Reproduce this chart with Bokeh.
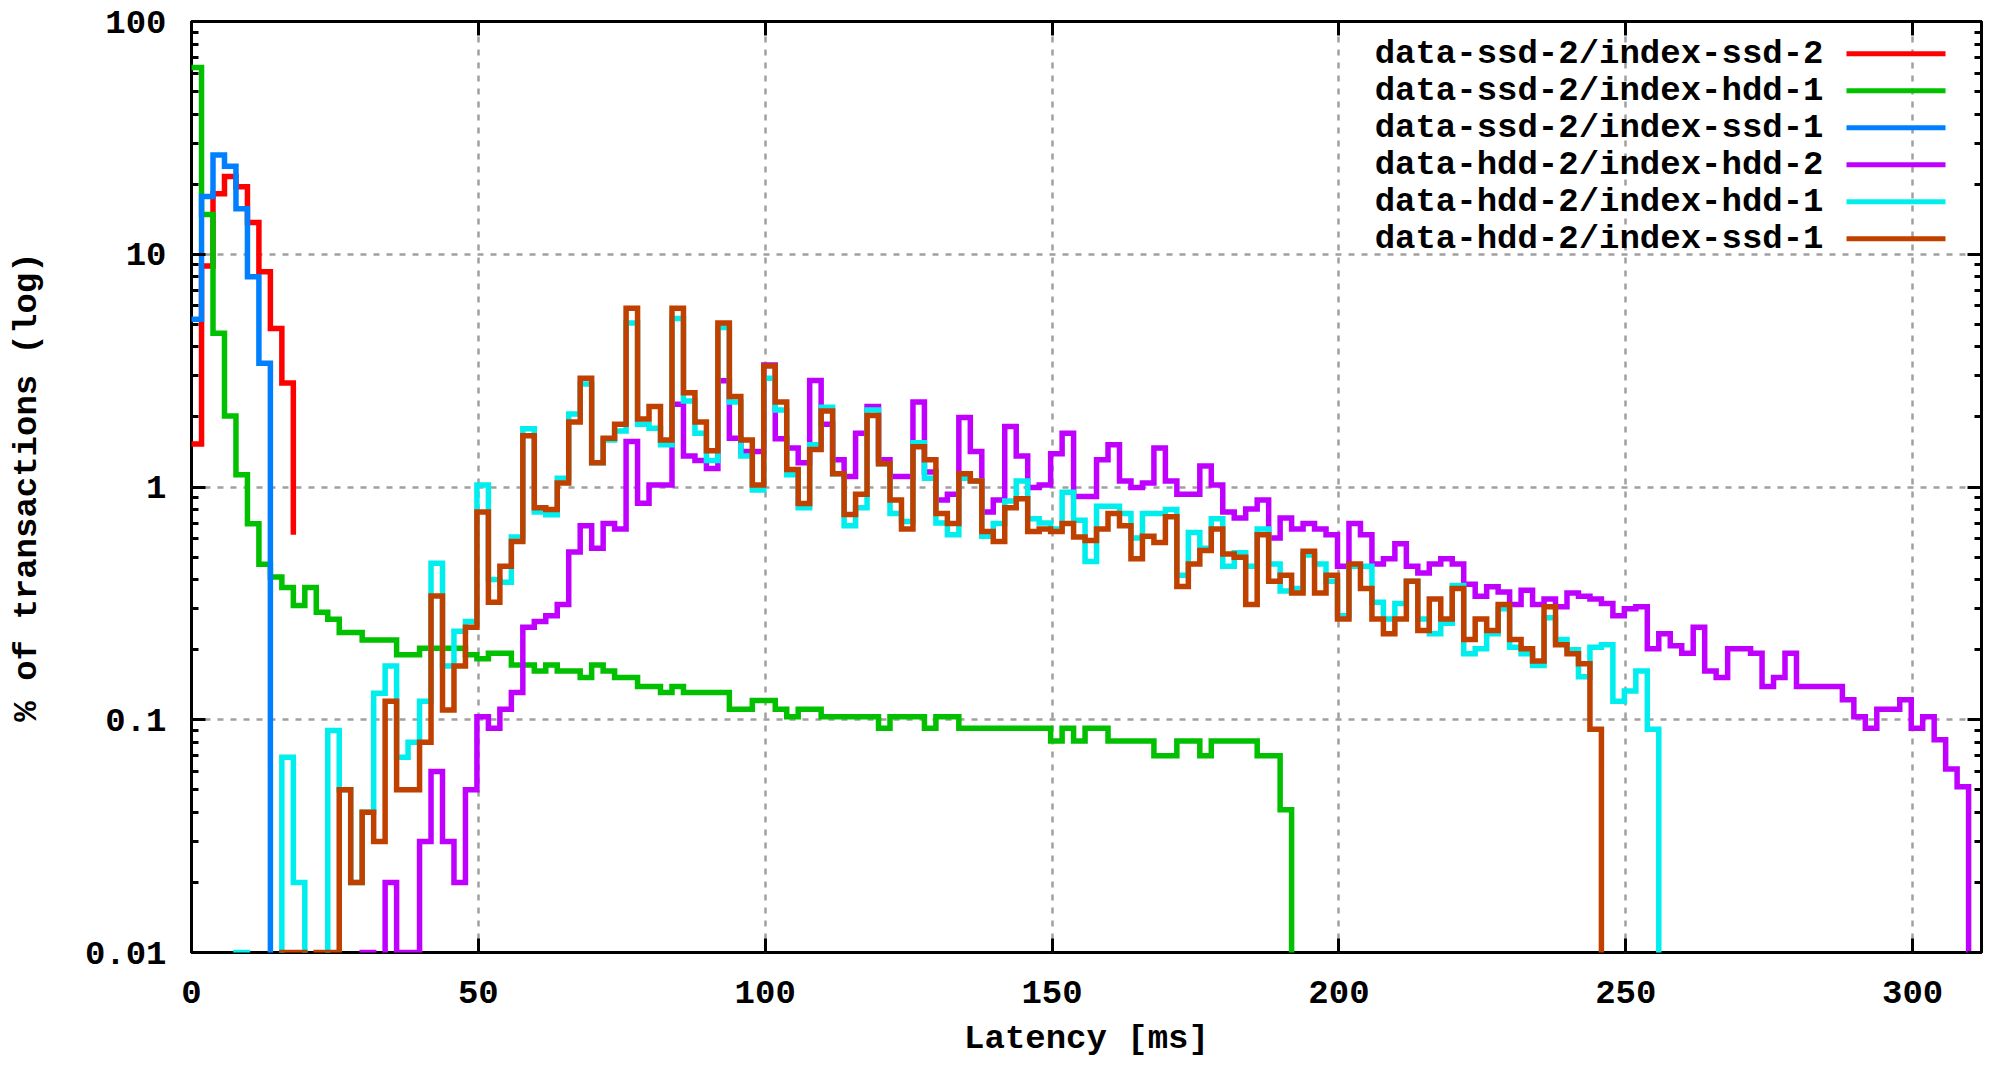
from bokeh.plotting import figure
from bokeh.models import (FixedTicker, LogAxis, LinearAxis, Label, BoxAnnotation,
                          CustomJSTickFormatter, Range1d)
from bokeh.embed import file_html
from bokeh.resources import INLINE

# ---------------- data (percent of transactions per 2 ms latency bin) ----------------
bin_start = -0.25      # ms, left edge of first bin
bin_width = 2.0        # ms

ssd2_ssd2 = [1.53, 8.9, 18.2, 21.6, 19.5, 13.7, 8.4, 4.8, 2.8, 0.64]

ssd2_hdd1 = [63.5, 14.8, 4.58, 2.02, 1.13, 0.695, 0.466, 0.41, 0.37, 0.31,
             0.37, 0.29, 0.27, 0.237, 0.237, 0.22, 0.22, 0.22, 0.19, 0.19,
             0.203, 0.203, 0.203, 0.203, 0.19, 0.183, 0.193, 0.193, 0.172, 0.172,
             0.162, 0.172, 0.162, 0.162, 0.152, 0.172, 0.162, 0.152, 0.152, 0.139,
             0.139, 0.131, 0.139, 0.131, 0.131, 0.131, 0.131, 0.111, 0.111, 0.121,
             0.121, 0.111, 0.103, 0.111, 0.111, 0.103, 0.103, 0.103, 0.103, 0.103,
             0.092, 0.103, 0.103, 0.103, 0.092, 0.103, 0.103, 0.092, 0.092, 0.092,
             0.092, 0.092, 0.092, 0.092, 0.092, 0.081, 0.092, 0.081, 0.092, 0.092,
             0.081, 0.081, 0.081, 0.081, 0.070, 0.070, 0.081, 0.081, 0.070, 0.081,
             0.081, 0.081, 0.081, 0.070, 0.070, 0.041, 0]

ssd2_ssd1 = [5.26, 17.7, 26.7, 23.9, 15.7, 8.0, 3.40, 0]

hdd2_hdd2 = [0, 0, 0, 0, 0, 0, 0, 0, 0, 0,
             0, 0, 0, 0, 0, 0.01, 0, 0.02, 0.01, 0.01,
             0.03, 0.06, 0.03, 0.02, 0.05, 0.103, 0.092, 0.111, 0.131, 0.25,
             0.264, 0.28, 0.313, 0.526, 0.682, 0.546, 0.697, 0.66, 1.57, 0.851,
             1.02, 1.02, 2.27, 1.36, 1.30, 1.20, 2.86, 1.62, 1.42, 1.42,
             3.34, 1.61, 1.47, 1.27, 2.87, 1.86, 1.31, 1.11, 1.70, 2.22,
             1.31, 1.11, 1.11, 2.32, 1.16, 0.879, 0.931, 1.99, 1.42, 0.78,
             0.879, 1.82, 1.36, 0.996, 1.02, 1.39, 1.70, 0.911, 0.911, 1.31,
             1.52, 1.06, 0.996, 1.04, 1.47, 1.06, 0.931, 0.931, 1.23, 1.02,
             0.78, 0.735, 0.804, 0.879, 0.604, 0.735, 0.66, 0.697, 0.66, 0.624,
             0.457, 0.697, 0.624, 0.467, 0.492, 0.57, 0.457, 0.427, 0.467, 0.492,
             0.467, 0.382, 0.339, 0.373, 0.354, 0.313, 0.36, 0.313, 0.33, 0.306,
             0.35, 0.339, 0.33, 0.316, 0.28, 0.30, 0.306, 0.202, 0.234, 0.208,
             0.193, 0.25, 0.162, 0.152, 0.202, 0.202, 0.193, 0.139, 0.152, 0.193,
             0.139, 0.139, 0.139, 0.139, 0.122, 0.103, 0.092, 0.111, 0.111, 0.122,
             0.092, 0.103, 0.082, 0.0615, 0.0515, 0]

hdd2_hdd1 = [0, 0, 0, 0, 0.01, 0, 0, 0, 0.069, 0.02,
             0, 0, 0.09, 0.05, 0.02, 0.04, 0.13, 0.17, 0.069, 0.08,
             0.12, 0.47, 0.17, 0.24, 0.264, 1.02, 0.40, 0.39, 0.61, 1.78,
             0.78, 0.76, 1.09, 2.06, 2.77, 1.27, 1.59, 1.74, 5.06, 1.86,
             1.79, 1.52, 5.3, 2.34, 1.70, 1.30, 4.84, 2.32, 1.36, 0.97,
             2.93, 2.14, 1.13, 0.815, 1.52, 2.2, 1.14, 0.682, 0.815, 2.14,
             1.26, 0.769, 0.71, 1.55, 1.09, 0.70, 0.624, 1.09, 1.06, 0.615,
             0.697, 0.87, 1.06, 0.73, 0.70, 0.66, 0.95, 0.72, 0.478, 0.826,
             0.826, 0.769, 0.604, 0.77, 0.77, 0.80, 0.418, 0.638, 0.546, 0.73,
             0.457, 0.522, 0.457, 0.66, 0.467, 0.357, 0.366, 0.51, 0.467, 0.394,
             0.28, 0.457, 0.457, 0.32, 0.271, 0.316, 0.394, 0.271, 0.234, 0.26,
             0.377, 0.192, 0.202, 0.234, 0.30, 0.205, 0.192, 0.171, 0.274, 0.221,
             0.20, 0.153, 0.205, 0.21, 0.12, 0.133, 0.162, 0.091, 0]

hdd2_ssd1 = [0, 0, 0, 0, 0, 0, 0, 0, 0.01, 0.01,
             0, 0.01, 0.01, 0.05, 0.02, 0.04, 0.03, 0.12, 0.05, 0.05,
             0.08, 0.34, 0.11, 0.17, 0.25, 0.78, 0.32, 0.457, 0.583, 1.66,
             0.815, 0.80, 1.04, 1.90, 2.93, 1.27, 1.62, 1.86, 5.86, 1.96,
             2.22, 1.59, 5.86, 2.54, 1.90, 1.43, 5.06, 2.45, 1.59, 1.02,
             3.31, 2.32, 1.19, 0.85, 1.45, 2.12, 1.14, 0.762, 0.931, 2.03,
             1.26, 0.879, 0.66, 1.49, 1.31, 0.769, 0.697, 1.14, 1.06, 0.644,
             0.583, 0.815, 0.891, 0.644, 0.66, 0.644, 0.697, 0.61, 0.589, 0.66,
             0.769, 0.682, 0.492, 0.615, 0.578, 0.745, 0.374, 0.467, 0.534, 0.66,
             0.515, 0.499, 0.313, 0.624, 0.394, 0.418, 0.35, 0.529, 0.35, 0.418,
             0.271, 0.467, 0.366, 0.271, 0.234, 0.271, 0.394, 0.242, 0.33, 0.271,
             0.366, 0.221, 0.271, 0.242, 0.313, 0.221, 0.202, 0.179, 0.306, 0.21,
             0.192, 0.174, 0.091, 0]

series_names = ["data-ssd-2/index-ssd-2", "data-ssd-2/index-hdd-1", "data-ssd-2/index-ssd-1",
                "data-hdd-2/index-hdd-2", "data-hdd-2/index-hdd-1", "data-hdd-2/index-ssd-1"]
series_values = [ssd2_ssd2, ssd2_hdd1, ssd2_ssd1, hdd2_hdd2, hdd2_hdd1, hdd2_ssd1]
series_colors = ["#ff0000", "#00c000", "#0080ff", "#c000ff", "#00eeee", "#c04000"]

x_ticks = [0, 50, 100, 150, 200, 250, 300]
y_ticks = [0.01, 0.1, 1, 10, 100]
y_minor = [m * d for d in (0.01, 0.1, 1, 10) for m in range(2, 10)]

# ---------------- figure ----------------
FONT = "Liberation Mono"
FS = "34px"
off_scale = 1e-4   # bins with no transactions: drawn below the axis floor

p = figure(width=1990, height=1065, y_axis_type="log",
           x_range=Range1d(0, 312), y_range=Range1d(0.01, 100),
           output_backend="svg", toolbar_location=None,
           min_border_left=191, min_border_right=9, min_border_top=21, min_border_bottom=113,
           background_fill_color="white", border_fill_color="white")
p.outline_line_color = "black"
p.outline_line_width = 3

for vals, color in zip(series_values, series_colors):
    xs = [bin_start + bin_width * i for i in range(len(vals))]
    ys = [v if v > 0 else off_scale for v in vals]
    p.step(xs, ys, mode="after", line_color=color, line_width=5.5,
           line_join="miter", line_cap="square")

# grid
p.xgrid.ticker = FixedTicker(ticks=x_ticks)
p.ygrid.ticker = FixedTicker(ticks=y_ticks)
for g in (p.xgrid, p.ygrid):
    g.grid_line_color = "#a0a0a0"
    g.grid_line_dash = "6 7"
    g.grid_line_width = 2.5
    g.minor_grid_line_color = None

# mirrored axes
top_ax = LinearAxis()
right_ax = LogAxis()
p.add_layout(top_ax, "above")
p.add_layout(right_ax, "right")

blank = CustomJSTickFormatter(code="return '';")
yfmt = CustomJSTickFormatter(code="return parseFloat(tick.toPrecision(6)).toString();")

for ax in p.xaxis:
    ax.ticker = FixedTicker(ticks=x_ticks)
for ax in p.yaxis:
    ax.ticker = FixedTicker(ticks=y_ticks, minor_ticks=y_minor)

for ax in list(p.xaxis) + list(p.yaxis):
    ax.axis_line_color = None
    ax.major_tick_in = 14
    ax.major_tick_out = 0
    ax.minor_tick_in = 7
    ax.minor_tick_out = 0
    ax.major_tick_line_width = 3
    ax.minor_tick_line_width = 3
    ax.major_tick_line_color = "black"
    ax.minor_tick_line_color = "black"
    ax.major_label_text_font = FONT
    ax.major_label_text_font_size = FS
    ax.major_label_text_font_style = "bold"
    ax.major_label_text_color = "black"

for ax in p.xaxis:
    ax.minor_tick_line_color = None

for ax in (top_ax, right_ax):
    ax.formatter = blank
    ax.major_label_text_font_size = "0px"
    ax.major_label_standoff = 0

bottom_ax = p.below[0]
left_ax = p.left[0]

bottom_ax.major_label_standoff = 28
bottom_ax.axis_label = "Latency [ms]"
bottom_ax.axis_label_text_font = FONT
bottom_ax.axis_label_text_font_size = FS
bottom_ax.axis_label_text_font_style = "bold"
bottom_ax.axis_label_text_color = "black"
bottom_ax.axis_label_standoff = 14

left_ax.major_label_standoff = 25
left_ax.formatter = yfmt
left_ax.axis_label = "% of transactions (log)"
left_ax.axis_label_text_font = FONT
left_ax.axis_label_text_font_size = FS
left_ax.axis_label_text_font_style = "bold"
left_ax.axis_label_text_color = "black"
left_ax.axis_label_standoff = 36

# legend (text right-aligned, line sample to the right); positions relative to plot frame
legend_text_x = 1632
legend_line_left = 1655
legend_line_right = 1754
legend_top_y = 898.7
legend_row = 37.0
for i, (name, color) in enumerate(zip(series_names, series_colors)):
    yy = legend_top_y - i * legend_row
    p.add_layout(Label(x=legend_text_x, y=yy, x_units="screen", y_units="screen", text=name,
                       text_align="right", text_baseline="middle", text_font=FONT,
                       text_font_size=FS, text_font_style="bold", text_color="black"))
    p.add_layout(BoxAnnotation(left=legend_line_left, right=legend_line_right,
                               top=yy + 2.5, bottom=yy - 2.5,
                               left_units="screen", right_units="screen",
                               top_units="screen", bottom_units="screen",
                               fill_color=color, fill_alpha=1.0, line_color=None))

open("out.html", "w").write(file_html(p, INLINE))
